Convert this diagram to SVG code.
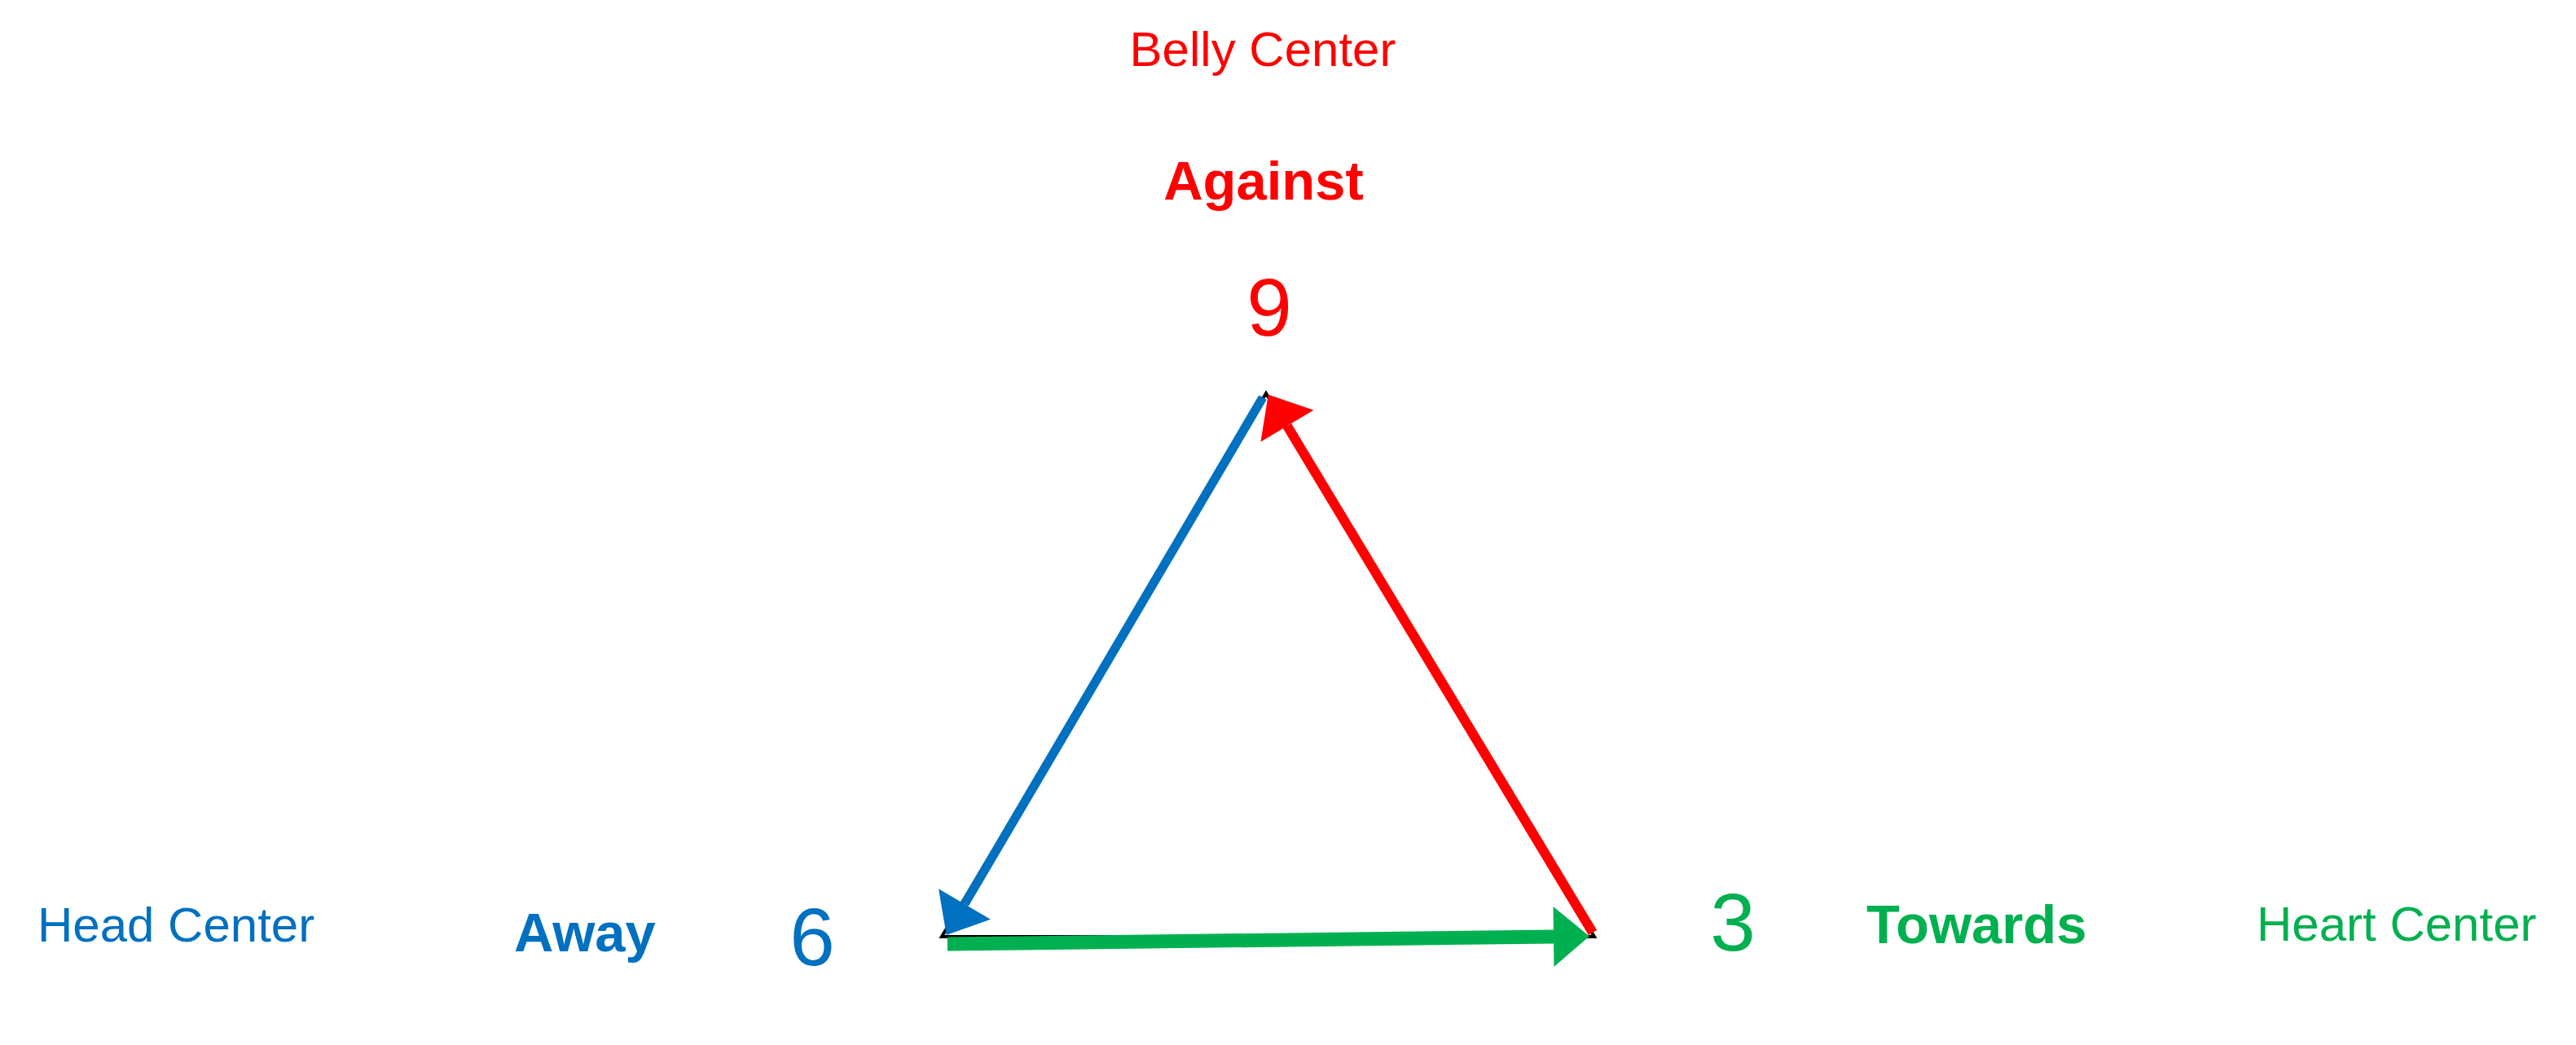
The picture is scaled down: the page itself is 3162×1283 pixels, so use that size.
<svg xmlns="http://www.w3.org/2000/svg" width="3162" height="1283" viewBox="0 0 3162 1283">
  <style>
    text { font-family: "Liberation Sans", Arial, sans-serif; }
    .center { font-size: 60px; }
    .dir { font-size: 67px; font-weight: bold; }
    .num { font-size: 100px; text-anchor: middle; }
    .red { fill: #FF0000; }
    .blue { fill: #0070C0; }
    .green { fill: #00B050; }
  </style>
  <defs>
    <marker id="headRed" markerUnits="userSpaceOnUse" markerWidth="46" markerHeight="76" refX="0" refY="38" orient="auto" overflow="visible">
      <path d="M0,0 L45,38 L0,76 Z" fill="#FF0000"/>
    </marker>
    <marker id="headBlue" markerUnits="userSpaceOnUse" markerWidth="46" markerHeight="74" refX="0" refY="37" orient="auto" overflow="visible">
      <path d="M0,0 L44,37 L0,74 Z" fill="#0070C0"/>
    </marker>
    <marker id="headGreen" markerUnits="userSpaceOnUse" markerWidth="46" markerHeight="74" refX="0" refY="37" orient="auto" overflow="visible">
      <path d="M0,0 L44,37 L0,74 Z" fill="#00B050"/>
    </marker>
  </defs>
  <rect width="3162" height="1283" fill="#FFFFFF"/>

  <g id="connectors">
    <polygon points="1554,483 1156,1150 1957,1150" fill="none" stroke="#000000" stroke-width="4"/>
    <line x1="1550" y1="488" x2="1184" y2="1110" stroke="#0070C0" stroke-width="11" marker-end="url(#headBlue)"/>
    <line x1="1955" y1="1145" x2="1580" y2="523" stroke="#FF0000" stroke-width="12" marker-end="url(#headRed)"/>
    <line x1="1163" y1="1159" x2="1907" y2="1150" stroke="#00B050" stroke-width="17" marker-end="url(#headGreen)"/>
  </g>

  <g id="node-belly">
    <text class="center red" x="1550" y="81" text-anchor="middle">Belly Center</text>
    <text class="dir red" x="1551" y="245" text-anchor="middle">Against</text>
    <text class="num red" x="1558" y="412">9</text>
  </g>

  <g id="node-head">
    <text class="center blue" x="46" y="1156">Head Center</text>
    <text class="dir blue" x="631" y="1168">Away</text>
    <text class="num blue" x="997" y="1185">6</text>
  </g>

  <g id="node-heart">
    <text class="num green" x="2127" y="1167">3</text>
    <text class="dir green" x="2291" y="1158">Towards</text>
    <text class="center green" x="2770" y="1155">Heart Center</text>
  </g>
</svg>
